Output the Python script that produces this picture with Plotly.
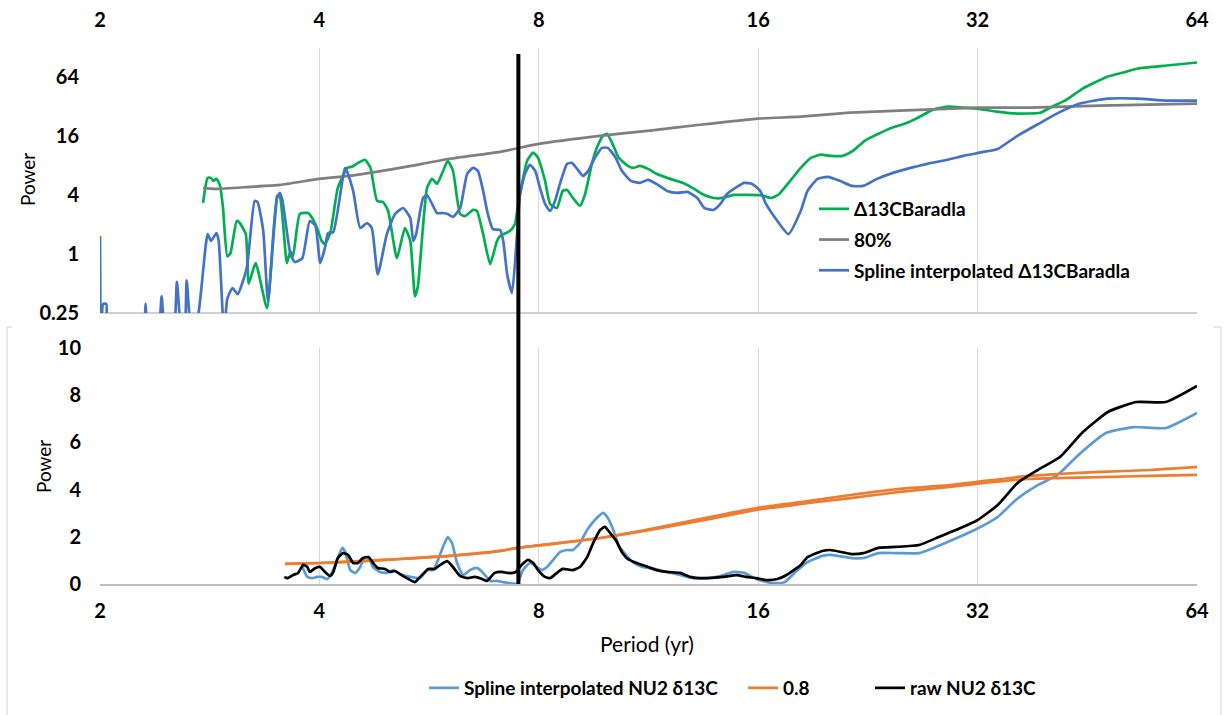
import math
import plotly.graph_objects as go

# ---------------- data: top panel (log-log) ----------------
gray_period = [2.77, 2.88, 3.21, 3.53, 4.0, 4.40, 5.16, 6.04, 7.08, 8.0, 9.71, 11.37, 13.3, 16.0,
               18.3, 21.4, 25.0, 32.0, 37.8, 47.1, 64]
gray_power = [4.75, 4.64, 4.87, 5.10, 5.88, 6.31, 7.62, 9.43, 11.1, 13.4, 16.2, 18.3, 21.0, 24.3,
              25.4, 27.9, 29.3, 31.4, 31.4, 33.0, 34.5]

green_period = [2.77, 2.81, 2.84, 2.86, 2.89, 2.92, 2.95, 2.99, 3.02, 3.08, 3.11, 3.17, 3.20, 3.27,
                3.39, 3.50, 3.53, 3.61, 3.65, 3.68, 3.76, 3.86, 3.91, 3.97, 4.03, 4.07, 4.14, 4.24,
                4.37, 4.43, 4.52, 4.62, 4.70, 4.80, 4.89, 4.97, 5.11, 5.24, 5.33, 5.41, 5.46, 5.62,
                5.71, 5.80, 5.89, 6.00, 6.10, 6.24, 6.34, 6.50, 6.58, 6.71, 6.86, 7.01, 7.08, 7.30,
                7.42, 7.49, 7.71, 7.86, 7.98, 8.16, 8.29, 8.47, 8.63, 8.75, 8.91, 9.11, 9.26, 9.46,
                9.61, 9.80, 9.92, 10.1, 10.3, 10.6, 10.8, 11.0, 11.3, 11.6, 12.0, 12.6, 13.0, 13.4,
                13.9, 14.3, 14.8, 15.4, 16.1, 16.7, 17.1, 17.7, 18.3, 18.9, 19.5, 20.1, 20.9, 21.6,
                22.4, 23.4, 24.4, 25.4, 26.5, 27.8, 29.2, 30.6, 32.0, 34.0, 36.3, 39.0, 40.5, 42.4,
                44.6, 48.3, 50.7, 53.1, 58.2, 64]
green_power = [3.34, 6.02, 6.02, 5.61, 5.88, 5.10, 2.96, 0.95, 1.02, 2.18, 2.08, 1.60, 0.50, 0.81,
               0.28, 3.93, 3.87, 0.81, 1.07, 0.95, 2.57, 2.63, 2.34, 1.85, 1.36, 1.27, 1.64, 4.75,
               7.62, 7.80, 8.57, 9.21, 7.62, 3.50, 3.41, 2.76, 0.91, 1.85, 1.36, 0.37, 0.47, 4.75,
               5.88, 5.22, 6.62, 9.0, 7.10, 2.57, 2.45, 2.83, 2.76, 1.60, 0.79, 1.36, 1.53, 1.72,
               2.03, 3.11, 9.0, 10.9, 9.65, 5.61, 3.26, 2.96, 4.43, 4.53, 3.75, 3.11, 4.12, 8.38,
               12.2, 16.2, 17.0, 13.4, 9.65, 7.99, 7.62, 7.99, 7.44, 6.62, 6.02, 5.35, 4.75, 4.12,
               3.75, 3.75, 4.03, 4.03, 4.0, 3.75, 4.12, 5.61, 7.62, 9.65, 10.4, 10.1, 10.1, 11.4,
               14.4, 17.0, 19.6, 21.5, 24.8, 30.0, 32.2, 31.4, 30.7, 28.6, 27.3, 27.9, 32.2, 38.0,
               49.2, 65.4, 71.9, 79, 84.8, 91]

blue_period = [2.0, 2.006, 2.02, 2.04, 2.05, 2.20, 2.30, 2.31, 2.33, 2.40,
               2.43, 2.46, 2.52, 2.55, 2.59, 2.61, 2.63, 2.67, 2.73, 2.81,
               2.84, 2.89, 2.91, 2.96, 2.99, 3.04, 3.09, 3.18, 3.26, 3.29,
               3.35, 3.40, 3.50, 3.53, 3.56, 3.65, 3.70, 3.79, 3.88, 3.95,
               4.01, 4.07, 4.11, 4.18, 4.34, 4.45, 4.55, 4.65, 4.72, 4.81,
               4.95, 5.08, 5.21, 5.33, 5.38, 5.43, 5.55, 5.62, 5.71, 5.80,
               5.91, 6.00, 6.10, 6.24, 6.38, 6.50, 6.60, 6.71, 6.81, 6.92,
               7.08, 7.15, 7.24, 7.35, 7.47, 7.54, 7.66, 7.78, 7.91, 8.03,
               8.16, 8.29, 8.42, 8.56, 8.75, 8.88, 9.03, 9.20, 9.35, 9.55,
               9.77, 9.95, 10.2, 10.4, 10.7, 11.0, 11.3, 11.6, 12.0, 12.4,
               12.8, 13.2, 13.5, 13.9, 14.2, 14.5, 14.96, 15.3, 15.7, 16.1,
               16.4, 17.0, 17.6, 18.3, 18.7, 19.3, 19.95, 20.7, 21.5, 22.3,
               23.3, 24.5, 25.9, 27.3, 29.1, 30.6, 32.2, 34.1, 36.2, 38.6,
               41.1, 44.2, 48.3, 53.0, 58.2, 64]
blue_power = [1.53, 0.12, 0.31, 0.31, 0.15, 0.12, 0.2, 0.31, 0.15, 0.15,
              0.37, 0.15, 0.15, 0.52, 0.15, 0.15, 0.54, 0.15, 0.25, 1.60,
              1.36, 1.64, 1.36, 0.15, 0.35, 0.45, 0.39, 0.72, 3.50, 3.41,
              1.72, 0.33, 3.75, 4.22, 3.50, 1.0, 0.83, 0.91, 2.18, 1.94,
              0.81, 1.15, 1.64, 1.68, 7.62, 4.43, 1.85, 2.08, 1.85, 0.62,
              1.60, 2.57, 2.96, 2.34, 1.36, 1.60, 3.75, 4.0, 3.26, 2.63,
              2.63, 2.57, 2.40, 2.96, 6.62, 7.62, 7.10, 4.43, 2.57, 1.80,
              1.76, 1.36, 0.62, 0.40, 1.60, 4.12, 6.62, 8.18, 7.10, 4.75,
              3.26, 2.76, 3.50, 5.35, 8.38, 8.57, 7.44, 6.31, 7.10, 9.65,
              12.2, 12.2, 9.65, 7.10, 5.61, 5.35, 5.74, 5.22, 4.43, 4.22,
              4.33, 3.75, 2.96, 2.83, 3.26, 4.12, 4.87, 5.35, 5.22, 4.43,
              3.26, 2.18, 1.60, 2.76, 4.43, 5.88, 6.16, 5.61, 4.98, 4.98,
              5.88, 6.77, 7.62, 8.38, 9.21, 10.1, 10.9, 11.9, 16.0, 21.0,
              27.3, 34.6, 38.9, 38.9, 37.1, 37.1]

# ---------------- data: bottom panel (log x, linear y) ----------------
nu2_spline_period = [3.79, 3.85, 3.91, 3.97, 4.03, 4.10, 4.16, 4.23, 4.30, 4.34,
                     4.41, 4.48, 4.55, 4.62, 4.67, 4.74, 4.84, 4.95, 5.05, 5.16,
                     5.33, 5.50, 5.62, 5.73, 5.82, 5.91, 6.00, 6.08, 6.18, 6.30,
                     6.44, 6.58, 6.71, 6.86, 7.01, 7.15, 7.30, 7.47, 7.61, 7.78,
                     7.95, 8.08, 8.21, 8.37, 8.56, 8.75, 8.91, 9.11, 9.32, 9.55,
                     9.80, 9.95, 10.1, 10.3, 10.6, 10.8, 11.1, 11.5, 12.0, 12.5,
                     13.0, 13.6, 14.2, 14.8, 15.3, 15.7, 16.2, 16.8, 17.4, 18.0,
                     18.7, 19.6, 20.1, 21.5, 22.3, 23.4, 24.7, 26.6, 27.6, 29.1,
                     31.7, 34.1, 36.1, 38.7, 41.2, 44.0, 48.0, 52.5, 58.0, 64]
nu2_spline_power = [0.72, 0.30, 0.25, 0.30, 0.30, 0.21, 0.47, 1.02, 1.53, 1.36,
                    0.59, 0.47, 0.72, 1.14, 1.10, 0.72, 0.51, 0.47, 0.59, 0.42,
                    0.30, 0.25, 0.59, 0.59, 1.02, 1.57, 1.99, 1.74, 0.89, 0.38,
                    0.59, 0.68, 0.47, 0.13, 0.13, 0.08, 0.04, 0.0, 0.59, 0.89,
                    0.72, 0.59, 0.72, 1.02, 1.36, 1.44, 1.44, 1.74, 2.29, 2.71,
                    3.01, 2.80, 2.37, 1.65, 1.14, 0.89, 0.72, 0.64, 0.51, 0.38,
                    0.25, 0.25, 0.34, 0.51, 0.47, 0.30, 0.13, 0.04, 0.08, 0.51,
                    0.93, 1.19, 1.23, 1.10, 1.10, 1.31, 1.31, 1.31, 1.48, 1.78,
                    2.29, 2.84, 3.56, 4.19, 4.62, 5.47, 6.40, 6.65, 6.61, 7.25]

nu2_raw_period = [3.58, 3.62, 3.68, 3.74, 3.80, 3.85, 3.88, 3.95, 4.01, 4.07,
                  4.14, 4.18, 4.24, 4.31, 4.38, 4.45, 4.52, 4.59, 4.67, 4.74,
                  4.81, 4.92, 5.00, 5.08, 5.16, 5.27, 5.41, 5.50, 5.64, 5.76,
                  5.86, 5.99, 6.10, 6.24, 6.38, 6.54, 6.69, 6.79, 6.96, 7.12,
                  7.24, 7.37, 7.44, 7.58, 7.73, 7.86, 7.98, 8.16, 8.29, 8.47,
                  8.63, 8.91, 9.11, 9.32, 9.50, 9.71, 9.86, 10.0, 10.2, 10.4,
                  10.6, 10.9, 11.3, 11.6, 12.0, 12.5, 12.9, 13.3, 13.7, 14.3,
                  14.96, 15.4, 15.9, 16.4, 17.0, 17.5, 18.3, 18.7, 19.6, 20.1,
                  21.5, 22.3, 23.4, 24.7, 26.6, 28.3, 29.4, 32.0, 34.1, 36.3,
                  38.7, 41.5, 44.5, 48.3, 52.8, 58.0, 64]
nu2_raw_power = [0.30, 0.25, 0.38, 0.47, 0.81, 0.72, 0.51, 0.68, 0.72, 0.51,
                 0.34, 0.51, 1.10, 1.31, 1.23, 0.89, 0.89, 1.10, 1.14, 0.89,
                 0.68, 0.64, 0.51, 0.55, 0.42, 0.25, 0.08, 0.30, 0.64, 0.64,
                 0.81, 0.97, 0.72, 0.34, 0.25, 0.30, 0.21, 0.13, 0.47, 0.51,
                 0.47, 0.47, 0.51, 0.81, 1.02, 0.89, 0.59, 0.30, 0.25, 0.47,
                 0.64, 0.59, 0.72, 1.14, 1.74, 2.29, 2.42, 2.20, 1.86, 1.36,
                 1.06, 0.89, 0.72, 0.59, 0.51, 0.47, 0.30, 0.25, 0.25, 0.30,
                 0.38, 0.30, 0.25, 0.17, 0.21, 0.38, 0.81, 1.14, 1.40, 1.44,
                 1.27, 1.31, 1.53, 1.57, 1.65, 1.99, 2.20, 2.71, 3.35, 4.28,
                 4.83, 5.38, 6.40, 7.29, 7.71, 7.71, 8.39]

orange_period = [3.59, 4.01, 4.55, 5.16, 6.04, 7.08, 7.47, 8.29, 9.71, 11.37, 13.3, 15.9, 18.3,
                 21.4, 25.0, 29.3, 31.8, 37.5, 41.2, 47.1, 55.2, 64]
orange_raw = [0.85, 0.89, 0.97, 1.06, 1.19, 1.40, 1.53, 1.69, 1.95, 2.33, 2.75, 3.22, 3.47,
              3.77, 4.03, 4.19, 4.32, 4.58, 4.66, 4.75, 4.83, 4.96]
orange_spline = [0.85, 0.89, 0.97, 1.06, 1.19, 1.40, 1.53, 1.69, 1.95, 2.29, 2.67, 3.14, 3.39,
                 3.64, 3.90, 4.11, 4.24, 4.45, 4.49, 4.53, 4.58, 4.62]

period_ticks = [2, 4, 8, 16, 32, 64]
power_ticks_top = [0.25, 1, 4, 16, 64]
power_ticks_top_text = ["0.25", "1", "4", "16", "64"]
marker_period = 7.5

# ---------------- styling ----------------
W, H = 1225, 715
FONT = "Lato"
GRID = "#D9D9D9"
LW = 2.7
SM = 0.5


def ln(color):
    return dict(color=color, width=LW, shape="spline", smoothing=SM)


xdom = [100 / W, 1197 / W]
ydom_top = [1 - 313 / H, 1 - 48 / H]
ydom_bot = [1 - 584 / H, 1 - 348 / H]

fig = go.Figure()

fig.add_trace(go.Scatter(x=green_period, y=green_power, mode="lines", name="Δ13CBaradla", legendgroup="g1",
                         line=ln("#00B050"), xaxis="x", yaxis="y", legend="legend"))
fig.add_trace(go.Scatter(x=gray_period, y=gray_power, mode="lines", name="80%", legendgroup="g2",
                         line=ln("#7F7F7F"), xaxis="x", yaxis="y", legend="legend"))
fig.add_trace(go.Scatter(x=blue_period, y=blue_power, mode="lines", name="Spline interpolated Δ13CBaradla",
                         legendgroup="g3", line=ln("#4472C4"), xaxis="x", yaxis="y", legend="legend"))

fig.add_trace(go.Scatter(x=nu2_spline_period, y=nu2_spline_power, mode="lines",
                         name="Spline interpolated NU2 δ13C",
                         line=ln("#5B9BD5"), xaxis="x2", yaxis="y2", legend="legend2"))
fig.add_trace(go.Scatter(x=orange_period, y=orange_raw, mode="lines", name="0.8",
                         line=ln("#ED7D31"), xaxis="x2", yaxis="y2", legend="legend3"))
fig.add_trace(go.Scatter(x=orange_period, y=orange_spline, mode="lines", name="0.8", showlegend=False,
                         line=ln("#ED7D31"), xaxis="x2", yaxis="y2", legend="legend3"))
fig.add_trace(go.Scatter(x=nu2_raw_period, y=nu2_raw_power, mode="lines", name="raw NU2 δ13C",
                         line=ln("#000000"), xaxis="x2", yaxis="y2", legend="legend4"))

tickfont = dict(family=FONT, size=20, color="#000000", weight="bold")
titlefont = dict(family=FONT, size=19, color="#000000")
legfont = dict(family=FONT, size=19, color="#000000", weight="bold")


def bottom_legend(px_left):
    return dict(orientation="h", x=px_left / W, y=1 - 688 / H, xanchor="left", yanchor="middle",
                bgcolor="rgba(0,0,0,0)", font=legfont)


fig.update_layout(
    width=W, height=H, autosize=False,
    margin=dict(l=0, r=0, t=0, b=0, autoexpand=False),
    paper_bgcolor="white", plot_bgcolor="rgba(0,0,0,0)",
    xaxis=dict(type="log", domain=xdom, anchor="y", side="top", automargin=False,
               range=[math.log10(2), math.log10(64)],
               tickvals=period_ticks, ticktext=[str(t) for t in period_ticks],
               ticks="", showgrid=True, gridcolor=GRID, gridwidth=1.2,
               zeroline=False, showline=False, tickfont=tickfont, ticklabelstandoff=16),
    yaxis=dict(type="log", domain=ydom_top, anchor="x", automargin=False,
               range=[math.log10(0.25), math.log10(128)],
               tickvals=power_ticks_top, ticktext=power_ticks_top_text,
               ticks="", showgrid=False, zeroline=False, showline=False,
               tickfont=tickfont, ticklabelstandoff=20),
    xaxis2=dict(type="log", domain=xdom, anchor="y2", side="bottom", automargin=False,
                range=[math.log10(2), math.log10(64)],
                tickvals=period_ticks, ticktext=[str(t) for t in period_ticks],
                ticks="", showgrid=True, gridcolor=GRID, gridwidth=1.2,
                zeroline=False, showline=True, linecolor="#BFBFBF", linewidth=1.5,
                tickfont=tickfont, ticklabelstandoff=8),
    yaxis2=dict(domain=ydom_bot, anchor="x2", range=[0, 10], dtick=2, automargin=False,
                ticks="", showgrid=False, zeroline=False, showline=False,
                tickfont=tickfont, ticklabelstandoff=18),
    legend=dict(x=814 / W, y=1 - 190 / H, xanchor="left", yanchor="top", tracegroupgap=3,
                bgcolor="rgba(0,0,0,0)", font=legfont),
    legend2=bottom_legend(424),
    legend3=bottom_legend(743),
    legend4=bottom_legend(870),
)

# axis titles
fig.add_annotation(text="Power", xref="paper", yref="paper", x=27 / W, y=1 - 180 / H,
                   textangle=-90, showarrow=False, font=titlefont, xanchor="center", yanchor="middle")
fig.add_annotation(text="Power", xref="paper", yref="paper", x=43 / W, y=1 - 467 / H,
                   textangle=-90, showarrow=False, font=titlefont, xanchor="center", yanchor="middle")
fig.add_annotation(text="Period (yr)", xref="paper", yref="paper", x=647 / W, y=1 - 643 / H,
                   showarrow=False, font=dict(family=FONT, size=21, color="#000000"),
                   xanchor="center", yanchor="middle")

# bottom axis line of the top panel
fig.add_shape(type="line", xref="x domain", yref="y domain", x0=0, x1=1, y0=0, y1=0,
              line=dict(color="#BFBFBF", width=1.5), layer="below")

# frame of the lower chart (only sides visible behind the upper chart)
frame = dict(color="#D9D9D9", width=1.2)
fig.add_shape(type="line", xref="paper", yref="paper", x0=7 / W, x1=7 / W, y0=0, y1=1 - 327 / H, line=frame)
fig.add_shape(type="line", xref="paper", yref="paper", x0=1221 / W, x1=1221 / W, y0=0, y1=1 - 327 / H, line=frame)
fig.add_shape(type="line", xref="paper", yref="paper", x0=7 / W, x1=12 / W, y0=1 - 327 / H, y1=1 - 327 / H, line=frame)
fig.add_shape(type="line", xref="paper", yref="paper", x0=1213 / W, x1=1221 / W, y0=1 - 327 / H, y1=1 - 327 / H, line=frame)

# vertical marker line at the given period, spanning both panels
frac = math.log10(marker_period / 2) / math.log10(64 / 2)
fig.add_shape(type="line", xref="x domain", yref="paper", x0=frac, x1=frac,
              y0=ydom_bot[0], y1=1 - 54 / H, line=dict(color="#000000", width=4))

fig.write_html("out.html", config={"displayModeBar": False},
               post_script="document.body.style.margin='0';document.body.style.padding='0';")
